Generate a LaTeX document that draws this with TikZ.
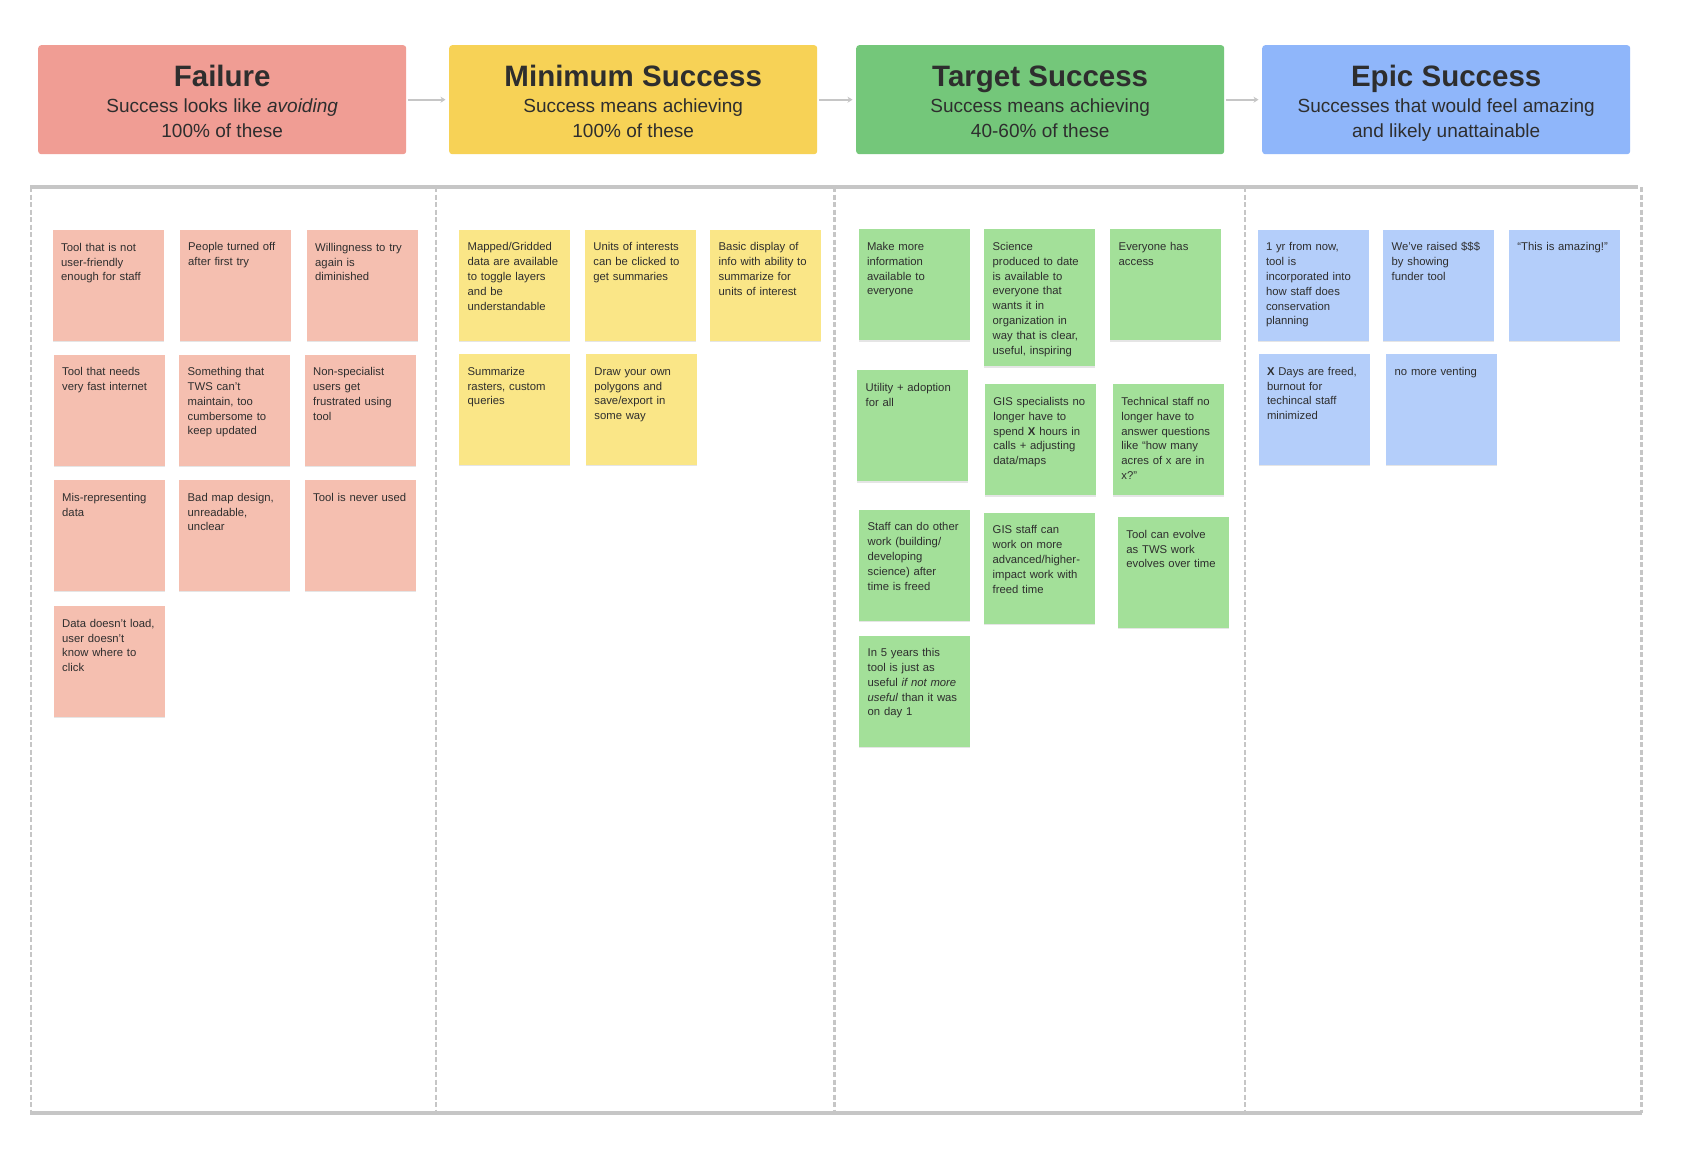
\documentclass[tikz,border=0pt]{standalone}
\usepackage{fontspec}
\setmainfont{Liberation Sans}
\usetikzlibrary{arrows.meta,shadows}
\definecolor{txt}{HTML}{2E2E2E}
\definecolor{hfailc}{HTML}{F09D94}
\definecolor{hminc}{HTML}{F7D256}
\definecolor{htgtc}{HTML}{74C77A}
\definecolor{hepicc}{HTML}{8FB6FA}
\definecolor{sfailc}{HTML}{F5BFB0}
\definecolor{sminc}{HTML}{FAE687}
\definecolor{stgtc}{HTML}{A3E099}
\definecolor{sepicc}{HTML}{B4CEFA}
\definecolor{framec}{HTML}{C6C6C6}
\newcommand\stfont{\fontsize{11.3}{14.8}\selectfont}
\newcommand\fixsp{\spaceskip=.28em plus 0pt minus 0pt\xspaceskip=.28em plus 0pt minus 0pt\relax}
\newcommand\hdcontent[2]{{\fontsize{29.5}{30}\selectfont\bfseries\fixsp #1\par}\vspace{2pt}{\fontsize{19}{24.7}\selectfont\fixsp #2\par}}
\begin{document}
\begin{tikzpicture}[x=1pt,y=-1pt,
  hdr/.style={rectangle, rounded corners=3pt, anchor=north west, inner xsep=4pt, inner ysep=0pt,
    text width=360pt, align=center, text height=41pt, text depth=68pt, text=txt},
  harrow/.style={draw=framec, line width=1.6pt, -{Stealth[length=5pt,width=6pt]}, shorten <=1.5pt, shorten >=3.5pt},
  panelline/.style={draw=framec, line width=3.2pt},
  paneldash/.style={draw=framec, line width=2.2pt, dash pattern=on 5pt off 2.5pt},
  sticky/.style={rectangle, anchor=north west, inner xsep=8.5pt, inner ysep=0pt, text width=94pt,
    align=left, text height=21pt, text depth=90pt, font=\stfont, text=txt,
    drop shadow={shadow xshift=0pt, shadow yshift=-1.2pt, opacity=0.10, fill=black}},
  tall/.style={text depth=116pt},
  sf/.style={sticky, fill=sfailc},
  sm/.style={sticky, fill=sminc},
  st/.style={sticky, fill=stgtc},
  se/.style={sticky, fill=sepicc}]
\useasboundingbox[fill=white] (0,0) rectangle (1684,1164);

% headers
\node[hdr, fill=hfailc] (hfail) at (38,45) {\hdcontent{Failure}{Success looks like \textit{avoiding}\\100\% of these}};
\node[hdr, fill=hminc] (hmin) at (449,45) {\hdcontent{Minimum Success}{Success means achieving\\100\% of these}};
\node[hdr, fill=htgtc] (htgt) at (856,45) {\hdcontent{Target Success}{Success means achieving\\40-60\% of these}};
\node[hdr, fill=hepicc] (hepic) at (1262,45) {\hdcontent{Epic Success}{Successes that would feel amazing\\and likely unattainable}};
\draw[harrow] (hfail) -- (hmin);
\draw[harrow] (hmin) -- (htgt);
\draw[harrow] (htgt) -- (hepic);

% frame
\draw[paneldash] (31,187) -- (31,1113);
\draw[paneldash] (436,187) -- (436,1113);
\draw[paneldash] (834.5,187) -- (834.5,1113);
\draw[paneldash] (1245,187) -- (1245,1113);
\draw[paneldash] (1641.5,187) -- (1641.5,1113);
\draw[panelline] (30,187) -- (1638,187);
\draw[panelline] (30,1113) -- (1642,1113);

% failure
\node[sf] (f1) at (52.5,230) {Tool that is not\\user-friendly\\enough for staff};
\node[sf] (f2) at (179.5,229.5) {People turned off\\after first try};
\node[sf] (f3) at (306.5,230) {Willingness to try\\again is\\diminished};
\node[sf] (f4) at (53.5,354.5) {Tool that needs\\very fast internet};
\node[sf] (f5) at (179,354.5) {Something that\\TWS can’t\\maintain, too\\cumbersome to\\keep updated};
\node[sf] (f6) at (304.5,354.5) {Non-specialist\\users get\\frustrated using\\tool};
\node[sf] (f7) at (53.5,480) {Mis-representing\\data};
\node[sf] (f8) at (179,480) {Bad map design,\\unreadable,\\unclear};
\node[sf] (f9) at (304.5,480) {Tool is never used};
\node[sf] (f10) at (53.5,606) {Data doesn’t load,\\user doesn’t\\know where to\\click};

% minimum
\node[sm] (m1) at (459,229.7) {Mapped/Gridded\\data are available\\to toggle layers\\and be\\understandable};
\node[sm] (m2) at (584.7,229.7) {Units of interests\\can be clicked to\\get summaries};
\node[sm] (m3) at (710,229.7) {Basic display of\\info with ability to\\summarize for\\units of interest};
\node[sm] (m4) at (459,354) {Summarize\\rasters, custom\\queries};
\node[sm] (m5) at (585.7,354) {Draw your own\\polygons and\\save/export in\\some way};

% target
\node[st] (t1) at (858.3,229.2) {Make more\\information\\available to\\everyone};
\node[st, tall] (t2) at (984,229.2) {Science\\produced to date\\is available to\\everyone that\\wants it in\\organization in\\way that is clear,\\useful, inspiring};
\node[st] (t3) at (1110,229.2) {Everyone has\\access};
\node[st] (t4) at (857,370.2) {Utility + adoption\\for all};
\node[st] (t5) at (984.7,384.2) {GIS specialists no\\longer have to\\spend \textbf{X} hours in\\calls + adjusting\\data/maps};
\node[st] (t6) at (1112.7,384.2) {Technical staff no\\longer have to\\answer questions\\like “how many\\acres of x are in\\x?”};
\node[st] (t7) at (859,509.6) {Staff can do other\\work (building/\\developing\\science) after\\time is freed};
\node[st] (t8) at (984,512.6) {GIS staff can\\work on more\\advanced/higher-\\impact work with\\freed time};
\node[st] (t9) at (1117.7,517) {Tool can evolve\\as TWS work\\evolves over time};
\node[st] (t10) at (859,635.4) {In 5 years this\\tool is just as\\useful \textit{if not more}\\\textit{useful} than it was\\on day 1};

% epic
\node[se] (e1) at (1257.3,229.7) {1 yr from now,\\tool is\\incorporated into\\how staff does\\conservation\\planning};
\node[se] (e2) at (1383,229.7) {We’ve raised \$\$\$\\by showing\\funder tool};
\node[se] (e3) at (1508.7,229.7) {“This is amazing!”};
\node[se] (e4) at (1258.3,354) {\textbf{X} Days are freed,\\burnout for\\techincal staff\\minimized};
\node[se] (e5) at (1386,354) {no more venting};
\end{tikzpicture}
\end{document}
